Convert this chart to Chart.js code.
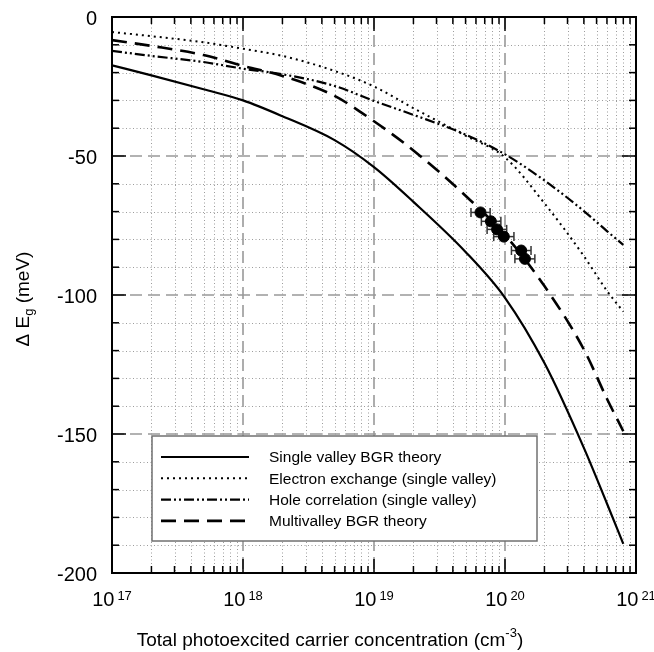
<!DOCTYPE html>
<html>
<head>
<meta charset="utf-8">
<script src="https://cdn.jsdelivr.net/npm/chart.js@4.4.0/dist/chart.umd.min.js"></script>
<style>
html, body { margin: 0; padding: 0; background: #fff; }
canvas { display: block; }
</style>
</head>
<body>
<canvas id="chart-canvas" width="654" height="652"></canvas>
<script>
// carrier concentration (cm^-3) where the theory curves are sampled
var concentration = [1e17, 2e17, 5e17, 1e18, 2e18, 5e18, 1e19, 2e19, 5e19, 1e20, 2e20, 4e20, 6e20, 8e20];

// band gap shift (meV)
var singleValley     = [-17.4, -21.0, -26.0, -30.0, -35.7, -44.3, -54.0, -66.5, -84.5, -101.0, -124.5, -155.0, -175.0, -189.5];
var electronExchange = [-5.4, -6.9, -9.1, -11.4, -14.0, -19.4, -25.0, -32.8, -42.7, -50.5, -67.0, -86.0, -98.5, -106.0];
var holeCorrelation  = [-12.2, -14.0, -16.2, -18.6, -20.6, -24.8, -30.2, -35.2, -42.3, -49.4, -58.8, -69.8, -77.0, -82.0];
var multivalley      = [-8.3, -10.4, -13.7, -17.6, -21.2, -28.4, -37.5, -48.0, -64.3, -78.4, -96.8, -119.6, -137.3, -149.0];

var seriesLabels = ['Single valley BGR theory', 'Electron exchange (single valley)', 'Hole correlation (single valley)', 'Multivalley BGR theory'];

// measured points with horizontal error bars
var expConc     = [6.5e19, 7.8e19, 8.7e19, 9.8e19, 1.33e20, 1.42e20];
var expGap      = [-70.3, -73.5, -76.4, -79.0, -84.0, -87.0];
var expConcLow  = [5.5e19, 6.6e19, 7.3e19, 8.2e19, 1.12e20, 1.19e20];
var expConcHigh = [7.7e19, 9.3e19, 1.03e20, 1.17e20, 1.58e20, 1.69e20];

// axes
var xDecades = [17, 18, 19, 20, 21];
var yTicks = [0, -50, -100, -150, -200];

var FONT = '"Liberation Sans", Arial, Helvetica, sans-serif';

function pts(xv, yv) {
    return xv.map(function (x, i) { return { x: x, y: yv[i] }; });
}

var xMinor = [], xMajor = [];
for (var k = 17; k < 21; k++) {
    for (var m = 2; m <= 9; m++) xMinor.push(m * Math.pow(10, k));
    if (k > 17) xMajor.push(Math.pow(10, k));
}
var yMinor = [], yMajor = [];
for (var v = -10; v > -200; v -= 10) {
    if (v % 50 === 0) yMajor.push(v); else yMinor.push(v);
}

var decorations = {
    id: 'decorations',
    beforeDatasetsDraw: function (chart) {
        var c = chart.ctx, a = chart.chartArea, xs = chart.scales.x, ys = chart.scales.y;
        c.save();
        function seg(x1, y1, x2, y2) { c.beginPath(); c.moveTo(x1, y1); c.lineTo(x2, y2); c.stroke(); }

        // minor grid, dotted
        c.strokeStyle = '#9c9c9c';
        c.lineWidth = 1;
        c.setLineDash([1, 2.5]);
        xMinor.forEach(function (v) { var p = Math.round(xs.getPixelForValue(v)) + 0.5; seg(p, a.top, p, a.bottom); });
        yMinor.forEach(function (v) { var p = Math.round(ys.getPixelForValue(v)) + 0.5; seg(a.left, p, a.right, p); });

        // major grid, dashed
        c.strokeStyle = '#999';
        c.lineWidth = 1.6;
        c.setLineDash([12, 6]);
        xMajor.forEach(function (v) { var p = xs.getPixelForValue(v); seg(p, a.top, p, a.bottom); });
        yMajor.forEach(function (v) { var p = ys.getPixelForValue(v); seg(a.left, p, a.right, p); });

        // error bars
        c.setLineDash([]);
        c.strokeStyle = '#333';
        c.lineWidth = 1.5;
        expConc.forEach(function (x, i) {
            var y = ys.getPixelForValue(expGap[i]);
            var x1 = xs.getPixelForValue(expConcLow[i]);
            var x2 = xs.getPixelForValue(expConcHigh[i]);
            seg(x1, y, x2, y);
            seg(x1, y - 4.5, x1, y + 4.5);
            seg(x2, y - 4.5, x2, y + 4.5);
        });
        c.restore();
    },
    afterDatasetsDraw: function (chart) {
        var c = chart.ctx, a = chart.chartArea, xs = chart.scales.x, ys = chart.scales.y;
        c.save();
        function seg(x1, y1, x2, y2) { c.beginPath(); c.moveTo(x1, y1); c.lineTo(x2, y2); c.stroke(); }

        // legend box
        c.fillStyle = '#fff';
        c.fillRect(152, 436, 385, 105);
        c.strokeStyle = '#707070';
        c.lineWidth = 1.5;
        c.strokeRect(152, 436, 385, 105);
        c.font = '15.5px ' + FONT;
        c.fillStyle = '#000';
        c.textAlign = 'left';
        c.textBaseline = 'middle';
        chart.data.datasets.forEach(function (ds, i) {
            if (ds.type === 'scatter') return;
            var ry = 457 + i * 21.3;
            c.strokeStyle = '#000';
            c.lineWidth = ds.borderWidth;
            c.setLineDash(ds.borderDash || []);
            seg(161, ry, 249, ry);
            c.setLineDash([]);
            c.fillText(ds.label, 269, ry + 1);
        });

        // frame
        c.setLineDash([]);
        c.strokeStyle = '#000';
        c.lineWidth = 2;
        c.strokeRect(a.left, a.top, a.right - a.left, a.bottom - a.top);

        // inward ticks on all sides
        c.lineWidth = 1.5;
        xMinor.forEach(function (v) {
            var p = xs.getPixelForValue(v);
            seg(p, a.bottom, p, a.bottom - 7); seg(p, a.top, p, a.top + 7);
        });
        xMajor.forEach(function (v) {
            var p = xs.getPixelForValue(v);
            seg(p, a.bottom, p, a.bottom - 14); seg(p, a.top, p, a.top + 14);
        });
        yMinor.forEach(function (v) {
            var p = ys.getPixelForValue(v);
            seg(a.left, p, a.left + 7, p); seg(a.right, p, a.right - 7, p);
        });
        yMajor.forEach(function (v) {
            var p = ys.getPixelForValue(v);
            seg(a.left, p, a.left + 14, p); seg(a.right, p, a.right - 14, p);
        });

        // y tick labels
        c.fillStyle = '#000';
        c.font = '20px ' + FONT;
        c.textAlign = 'right';
        c.textBaseline = 'middle';
        yTicks.forEach(function (v) {
            c.fillText(String(v), 97, ys.getPixelForValue(v) + 2);
        });

        // x tick labels 10^n
        c.textAlign = 'left';
        c.textBaseline = 'alphabetic';
        xDecades.forEach(function (n) {
            var p = xs.getPixelForValue(Math.pow(10, n));
            c.font = '20px ' + FONT;
            var w1 = c.measureText('10').width;
            c.font = '13px ' + FONT;
            var w2 = c.measureText(String(n)).width;
            var x0 = p - (w1 + 3 + w2) / 2;
            c.font = '20px ' + FONT;
            c.fillText('10', x0, 606);
            c.font = '13px ' + FONT;
            c.fillText(String(n), x0 + w1 + 3, 600);
        });

        // x title
        var t1 = 'Total photoexcited carrier concentration (cm', t2 = '-3', t3 = ')';
        c.font = '19px ' + FONT;
        var a1 = c.measureText(t1).width, a3 = c.measureText(t3).width;
        c.font = '13px ' + FONT;
        var a2 = c.measureText(t2).width;
        var sx = 330 - (a1 + a2 + a3) / 2;
        c.font = '19px ' + FONT;
        c.fillText(t1, sx, 646);
        c.fillText(t3, sx + a1 + a2, 646);
        c.font = '13px ' + FONT;
        c.fillText(t2, sx + a1, 637);

        // y title, rotated
        c.translate(29, 299);
        c.rotate(-Math.PI / 2);
        var p1 = '\u0394 E', p2 = 'g', p3 = ' (meV)';
        c.font = '19px ' + FONT;
        var b1 = c.measureText(p1).width, b3 = c.measureText(p3).width;
        c.font = '13px ' + FONT;
        var b2 = c.measureText(p2).width;
        var sy = -(b1 + b2 + b3) / 2;
        c.font = '19px ' + FONT;
        c.fillText(p1, sy, 0);
        c.fillText(p3, sy + b1 + b2, 0);
        c.font = '13px ' + FONT;
        c.fillText(p2, sy + b1, 4);
        c.restore();
    }
};

var lineBase = { type: 'line', borderColor: '#000', pointRadius: 0, fill: false, cubicInterpolationMode: 'monotone' };

var chart = new Chart(document.getElementById('chart-canvas').getContext('2d'), {
    type: 'line',
    data: {
        datasets: [
            Object.assign({}, lineBase, { label: seriesLabels[0], data: pts(concentration, singleValley), borderWidth: 2.2, borderDash: [] }),
            Object.assign({}, lineBase, { label: seriesLabels[1], data: pts(concentration, electronExchange), borderWidth: 2, borderDash: [2, 4] }),
            Object.assign({}, lineBase, { label: seriesLabels[2], data: pts(concentration, holeCorrelation), borderWidth: 2.2, borderDash: [10, 3, 2, 3, 2, 3] }),
            Object.assign({}, lineBase, { label: seriesLabels[3], data: pts(concentration, multivalley), borderWidth: 2.6, borderDash: [15, 8] }),
            {
                type: 'scatter',
                label: 'Experiment',
                data: pts(expConc, expGap),
                pointRadius: 5.5,
                pointBackgroundColor: '#000',
                pointBorderColor: '#000',
                showLine: false
            }
        ]
    },
    options: {
        responsive: false,
        animation: false,
        layout: { padding: { left: 112, top: 17, right: 18, bottom: 79 } },
        scales: {
            x: { type: 'logarithmic', min: 1e17, max: 1e21, display: false },
            y: { type: 'linear', min: -200, max: 0, display: false }
        },
        plugins: { legend: { display: false }, tooltip: { enabled: false } }
    },
    plugins: [decorations]
});
</script>
</body>
</html>
